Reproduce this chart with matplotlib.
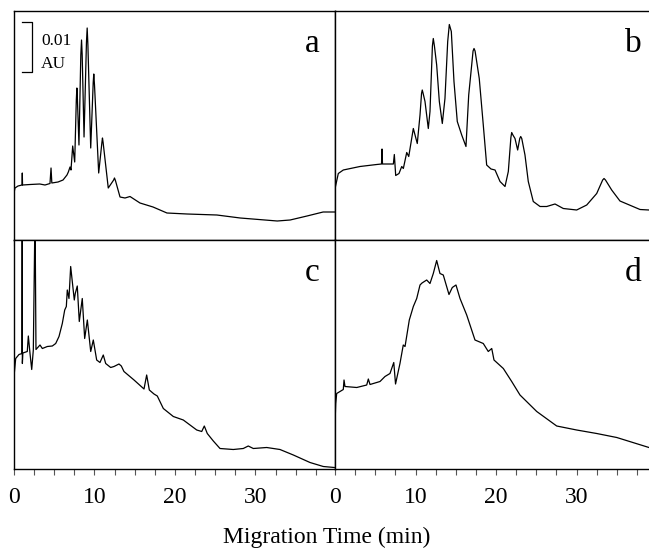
import matplotlib
matplotlib.use('Agg')
import matplotlib.pyplot as plt
from matplotlib.ticker import MultipleLocator, FixedLocator

plt.rcParams['font.family'] = ['Liberation Serif', 'DejaVu Serif']

# electropherograms, time in min, absorbance in mAU (arbitrary offset)
time_a = [0, 0.12, 0.5, 1.0, 1.03, 1.06, 2.0, 3.2, 3.85, 4.47, 4.6, 4.7, 5.47, 6.09,
          6.58, 6.75, 6.96, 7.08, 7.29, 7.54, 7.74, 7.81, 7.88, 8.07, 8.3, 8.39, 8.47,
          8.70, 9.0, 9.09, 9.18, 9.53, 9.84, 9.91, 10.0, 10.52, 10.92, 10.99, 11.07,
          11.71, 12.38, 12.48, 12.6, 13.17, 13.79, 14.41, 15.65, 17.27,
          19.0, 21.5, 25.2, 28.1, 32.7, 34.3, 36.4, 38.4, 39.9]
abs_a = [9.4, 10.4, 10.8, 11.0, 13.4, 11.0, 11.1, 11.2, 11.0, 11.3, 14.4, 11.4, 11.6, 12.0,
         13.0, 13.6, 14.6, 14.0, 18.8, 15.6, 28.0, 30.4, 28.0, 19.0, 37.0, 40.0, 37.0,
         20.6, 39.5, 42.4, 39.0, 18.4, 31.5, 33.2, 31.0, 13.4, 19.5, 20.4, 19.5,
         10.4, 12.0, 12.4, 11.9, 8.6, 8.4, 8.7, 7.4, 6.6,
         5.4, 5.2, 5.0, 4.4, 3.8, 4.0, 4.8, 5.6, 5.6]

time_b = [0.02, 0.41, 1.03, 3.1, 5.18, 5.78, 5.84, 5.9, 7.25, 7.37, 7.54, 7.95, 8.29,
          8.49, 8.91, 9.16, 9.73, 10.22, 10.56, 10.75, 10.84, 10.95, 11.18, 11.59,
          11.8, 12.1, 12.21, 12.35, 12.63, 12.96, 13.33, 13.66, 14.0, 14.2, 14.45,
          14.78, 15.19, 15.74, 16.27, 16.61, 16.98, 17.15, 17.27, 17.4, 17.6, 17.92,
          18.42, 18.84, 19.38, 19.88, 20.5, 21.12, 21.53, 21.85, 21.95, 22.1, 22.36,
          22.69, 22.95, 23.07, 23.2, 23.6, 24.01, 24.63, 25.47, 26.3, 27.33, 28.36,
          30.02, 31.27, 32.51, 33.25, 33.42, 33.6, 34.37, 35.4, 37.89, 39.0, 40.0]
abs_b = [10.4, 13.3, 14.0, 14.7, 15.1, 15.2, 18.2, 15.2, 15.2, 17.1, 12.9, 13.3, 14.7,
         14.3, 17.5, 16.7, 22.3, 19.3, 25.0, 29.3, 30.0, 29.3, 27.7, 22.3,
         25.7, 38.8, 40.3, 38.8, 35.0, 27.7, 23.3, 28.3, 39.7, 43.1, 41.7,
         31.7, 23.7, 21.0, 18.7, 29.0, 35.0, 37.8, 38.3, 37.8, 35.7, 32.3,
         23.0, 15.0, 14.2, 14.0, 11.7, 10.7, 13.7, 20.5, 21.5, 21.0, 20.3,
         18.0, 20.3, 20.7, 20.3, 17.0, 11.7, 7.7, 6.7, 6.7, 7.2, 6.3,
         6.0, 7.0, 9.3, 12.0, 12.3, 12.0, 10.0, 7.8, 6.1, 6.0, 5.9]

time_c = [0, 0.21, 0.62, 0.99, 1.02, 1.04, 1.1, 1.65, 1.78, 1.99, 2.2, 2.4, 2.6, 2.62,
          2.73, 3.23, 3.52, 4.14, 4.76, 5.18, 5.59, 6.0, 6.3, 6.5, 6.62, 6.83, 7.04,
          7.24, 7.49, 7.61, 7.86, 8.11, 8.48, 8.78, 9.11, 9.53, 9.85, 10.27, 10.68,
          11.09, 11.39, 12.01, 12.42, 13.04, 13.33, 13.66, 14.91, 16.15, 16.48,
          16.81, 17.39, 17.8, 18.55, 19.79, 21.03, 22.7, 23.32, 23.64, 24.01,
          24.76, 25.59, 27.24, 28.48, 29.1, 29.73, 31.39, 33.04, 34.7, 36.77,
          38.42, 39.79]
abs_c = [18.5, 22.1, 22.9, 23.1, 50, 21.1, 23.2, 23.5, 26.6, 23.1, 19.9, 23.8, 50, 50,
         23.9, 24.8, 24.1, 24.5, 24.6, 25.1, 26.5, 29.1, 31.8, 32.5, 35.8, 34.1, 40.5,
         37.5, 33.8, 35.1, 36.6, 29.5, 34.1, 26.1, 29.8, 23.5, 25.8, 21.8, 21.3,
         22.8, 21.1, 20.3, 20.5, 21.0, 20.6, 19.5, 17.8, 16.0, 18.8,
         15.8, 15.0, 14.6, 12.1, 10.5, 9.8, 7.8, 7.5, 8.6, 7.1,
         5.6, 4.1, 3.9, 4.1, 4.6, 4.1, 4.3, 3.9, 2.8, 1.3,
         0.5, 0.3]

time_d = [0.04, 0.09, 0.21, 1.03, 1.12, 1.24, 2.7, 3.94, 4.14, 4.35, 5.59, 6.21, 6.83,
          7.3, 7.52, 8.07, 8.48, 8.7, 9.23, 9.73, 10.15, 10.56, 10.81, 11.39, 11.8,
          12.21, 12.63, 13.04, 13.45, 14.16, 14.57, 15.03, 15.53, 16.36, 17.39,
          18.42, 19.04, 19.47, 19.75, 20.91, 21.95, 22.98, 25.06, 27.54, 30.02,
          32.51, 35.0, 39.0, 40.0]
abs_d = [10.8, 13.1, 15.1, 15.9, 17.8, 16.5, 16.3, 16.8, 18.0, 16.9, 17.5, 18.5, 19.1,
         21.3, 17.0, 21.1, 24.8, 24.5, 29.8, 32.5, 34.1, 36.8, 37.2, 37.8, 37.1,
         39.1, 41.7, 39.1, 38.8, 34.9, 36.3, 36.8, 34.1, 30.8, 25.8,
         25.1, 23.5, 24.1, 21.8, 20.1, 17.5, 14.8, 11.5, 8.6, 7.8,
         7.1, 6.3, 4.3, 4.0]

panel_labels = ['a', 'b', 'c', 'd']
tick_labels = ['0', '10', '20', '30']
scale_bar = 10  # mAU = 0.01 AU

W, H = 649, 549
fig = plt.figure(figsize=(W / 100, H / 100), dpi=100)

# panel boxes in pixels (left, top); right column runs past the page edge
pw, ph = 321, 229
boxes = [(14, 11), (335, 11), (14, 240), (335, 240)]
traces = [(time_a, abs_a), (time_b, abs_b), (time_c, abs_c), (time_d, abs_d)]

axes = []
for i, ((px, py), (t, y)) in enumerate(zip(boxes, traces)):
    ax = fig.add_axes([px / W, (H - py - ph) / H, pw / W, ph / H])
    ax.plot(t, y, color='black', lw=0.9)
    ax.set_xlim(0, pw / 8.05)
    ax.set_ylim(0, ph * 0.2)
    ax.set_yticks([])
    ax.xaxis.set_major_locator(FixedLocator([0, 10, 20, 30]))
    ax.xaxis.set_minor_locator(MultipleLocator(2.5))
    ax.tick_params(axis='x', which='both', direction='out', length=4, width=0.8,
                   color='#555555', pad=9, labelsize=17)
    if i < 2:
        ax.set_xticklabels([])
    else:
        ax.set_xticklabels(tick_labels)
    for s in ax.spines.values():
        s.set_linewidth(1.0)
    ax.text(0.93, 0.855, panel_labels[i], transform=ax.transAxes, fontsize=24,
            ha='center', va='center')
    axes.append(ax)

# absorbance scale bar in panel a
ax = axes[0]
y_top = ax.get_ylim()[1] - 11 * 0.2
x0, x1 = 1.0, 2.27
ax.plot([x0, x1, x1, x0], [y_top, y_top, y_top - scale_bar, y_top - scale_bar],
        color='black', lw=0.9)
ax.text(3.35, y_top - 3.8, '0.01', fontsize=12.5, va='center', ha='left')
ax.text(3.35, y_top - 8.4, 'AU', fontsize=12.5, va='center', ha='left')

fig.text(327 / W, (H - 537) / H, 'Migration Time (min)', fontsize=17,
         ha='center', va='center')

fig.savefig('out.png', dpi=100)
